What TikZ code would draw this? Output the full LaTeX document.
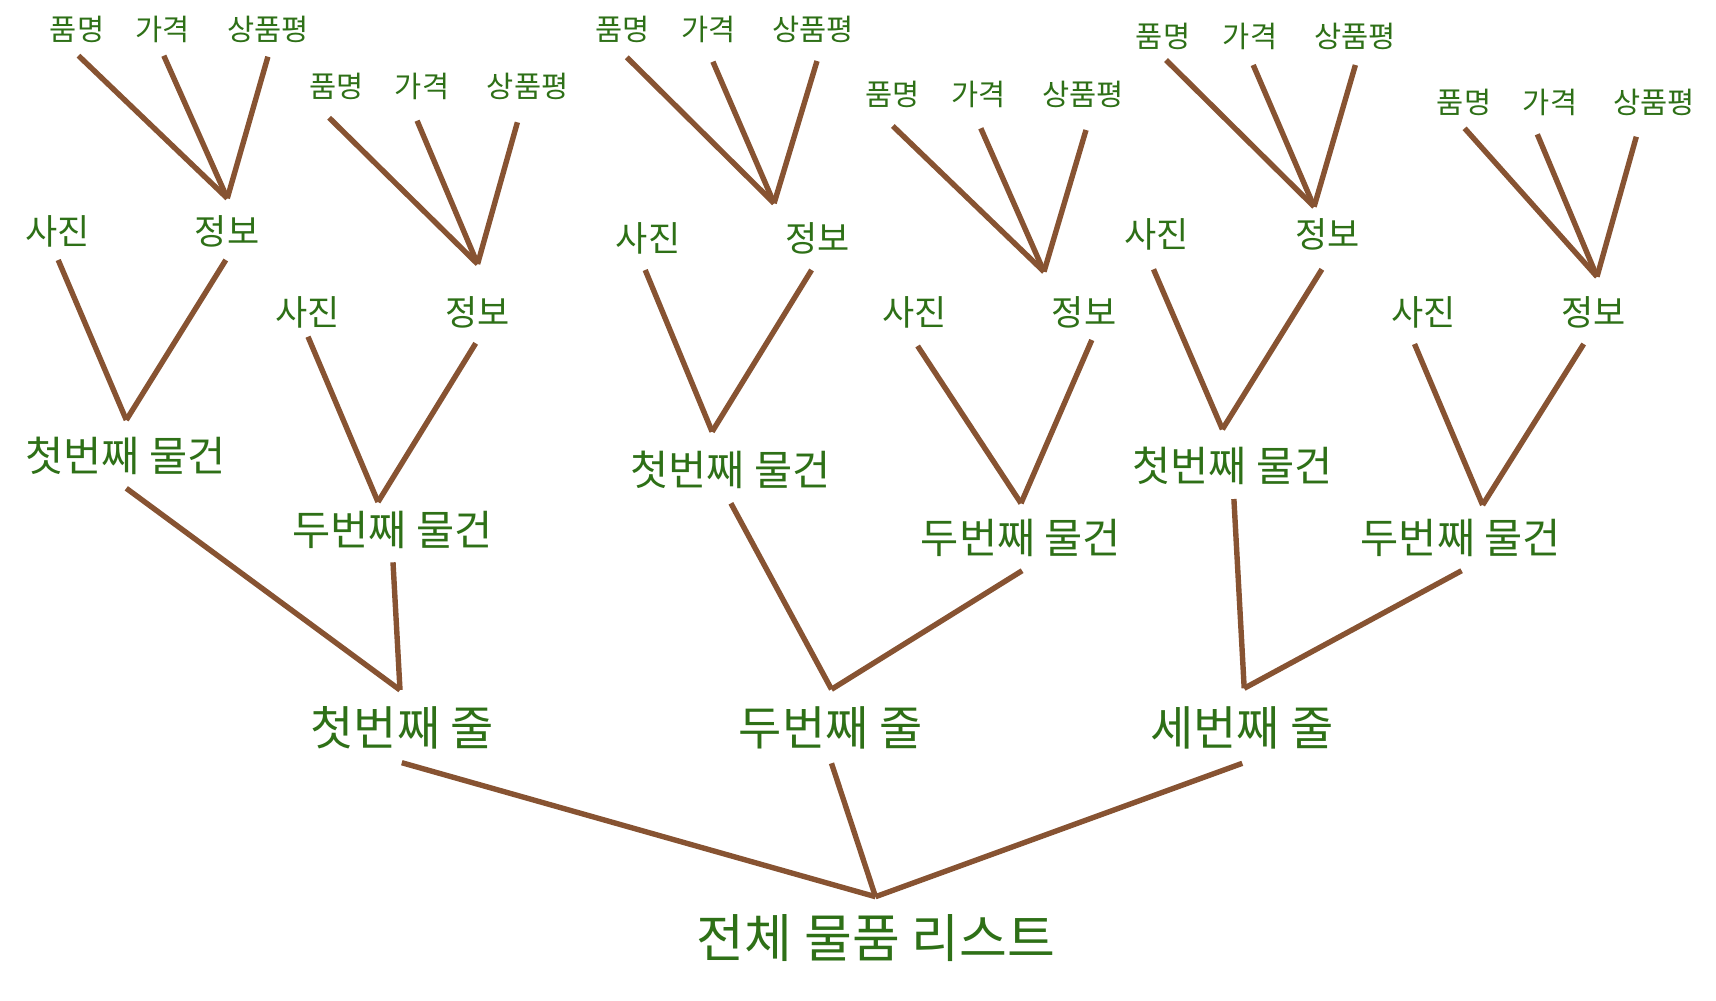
\documentclass[tikz,border=0pt]{standalone}
\usepackage{fontspec}
\setmainfont{Noto Sans CJK KR}
\definecolor{lbl}{RGB}{46,112,23}
\definecolor{brn}{RGB}{135,83,50}
\newcommand\brl[4]{\draw[conn] ([xshift=#2pt,yshift=-#3pt]#1.center) -- (#4);}
\begin{document}
\begin{tikzpicture}[x=1pt,y=-1pt,
  every node/.style={text=lbl, inner sep=0pt, outer sep=0pt},
  sml/.style={font=\fontsize{29.5}{32}\selectfont, text height=23.9pt, text depth=1.5pt},
  mid/.style={font=\fontsize{35}{38}\selectfont, text height=28.4pt, text depth=1.8pt},
  itm/.style={font=\fontsize{41.5}{44}\selectfont, text height=33.6pt, text depth=2.1pt},
  row/.style={font=\fontsize{47}{50}\selectfont, text height=38.1pt, text depth=2.4pt},
  top/.style={font=\fontsize{52}{55}\selectfont, text height=42.1pt, text depth=2.6pt},
  conn/.style={draw=brn, line width=5.4pt}]
\useasboundingbox (0,0) rectangle (1716,1001);

% ---- top labels
\node[sml] (pmA) at (77,29) {품명};
\node[sml] (gkA) at (162.6,29) {가격};
\node[sml] (spA) at (268,29) {상품평};
\node[sml] (pmB) at (336.4,86.7) {품명};
\node[sml] (gkB) at (422,86.7) {가격};
\node[sml] (spB) at (527.6,86.7) {상품평};
\node[sml] (pmC) at (622.9,29) {품명};
\node[sml] (gkC) at (708.5,29) {가격};
\node[sml] (spC) at (813.4,29) {상품평};
\node[sml] (pmD) at (892.2,94) {품명};
\node[sml] (gkD) at (978.3,94) {가격};
\node[sml] (spD) at (1083,94) {상품평};
\node[sml] (pmE) at (1163,36) {품명};
\node[sml] (gkE) at (1250,36) {가격};
\node[sml] (spE) at (1355,36) {상품평};
\node[sml] (pmF) at (1464,102.5) {품명};
\node[sml] (gkF) at (1550,102.5) {가격};
\node[sml] (spF) at (1654,102.5) {상품평};

\coordinate (jA) at (227.3,198.3);
\coordinate (jB) at (477.6,264);
\coordinate (jC) at (774.1,203.3);
\coordinate (jD) at (1044,271.7);
\coordinate (jE) at (1314.1,206.7);
\coordinate (jF) at (1597,276.7);

% ---- photo / info
\node[mid] (sjA) at (57.4,231) {사진};
\node[mid] (jbA) at (227,231) {정보};
\node[mid] (sjB) at (307.5,312) {사진};
\node[mid] (jbB) at (477.6,312) {정보};
\node[mid] (sjC) at (648,238.3) {사진};
\node[mid] (jbC) at (817.2,238.3) {정보};
\node[mid] (sjD) at (914.2,311.7) {사진};
\node[mid] (jbD) at (1084,311.7) {정보};
\node[mid] (sjE) at (1156.2,234) {사진};
\node[mid] (jbE) at (1327.9,234) {정보};
\node[mid] (sjF) at (1423.5,311.8) {사진};
\node[mid] (jbF) at (1593.6,311.8) {정보};

\coordinate (vA) at (126.3,420);
\coordinate (vB) at (378,502);
\coordinate (vC) at (712.1,431.7);
\coordinate (vD) at (1021,503.3);
\coordinate (vE) at (1222.4,429.3);
\coordinate (vF) at (1482.6,505);

% ---- items
\node[itm] (iA) at (125.3,456) {첫번째 물건};
\node[itm] (iB) at (392.3,530) {두번째 물건};
\node[itm] (iC) at (730.7,470) {첫번째 물건};
\node[itm] (iD) at (1021,537.7) {두번째 물건};
\node[itm] (iE) at (1232.3,465.3) {첫번째 물건};
\node[itm] (iF) at (1460.8,537.7) {두번째 물건};

\coordinate (rjA) at (400,690);
\coordinate (rjB) at (831.5,689.3);
\coordinate (rjC) at (1244.2,688.3);

% ---- rows
\node[row] (r1) at (402.4,727.5) {첫번째 줄};
\node[row] (r2) at (830.6,727.5) {두번째 줄};
\node[row] (r3) at (1242,727.8) {세번째 줄};

\coordinate (rootj) at (875.5,896.7);
\node[top] (root) at (876,937.5) {전체 물품 리스트};

% ---- connectors: top fans
\brl{pmA}{1.5}{26.7}{jA}
\brl{gkA}{1.2}{26.7}{jA}
\brl{spA}{-0.1}{27.7}{jA}
\brl{pmB}{-7.3}{31}{jB}
\brl{gkB}{-4.9}{34}{jB}
\brl{spB}{-10.2}{35.6}{jB}
\brl{pmC}{3.9}{28.3}{jC}
\brl{gkC}{4.4}{32.7}{jC}
\brl{spC}{3.6}{32}{jC}
\brl{pmD}{0.6}{32}{jD}
\brl{gkD}{2.5}{34.3}{jD}
\brl{spD}{3}{36}{jD}
\brl{pmE}{3}{24}{jE}
\brl{gkE}{3.2}{29}{jE}
\brl{spE}{0.4}{29}{jE}
\brl{pmF}{0.6}{25.8}{jF}
\brl{gkF}{-12.7}{31.8}{jF}
\brl{spF}{-17.7}{34.2}{jF}

% ---- photo/info to items
\brl{sjA}{0.8}{29}{vA}
\brl{jbA}{-1.2}{29}{vA}
\brl{sjB}{0.5}{24.7}{vB}
\brl{jbB}{-1.9}{31.3}{vB}
\brl{sjC}{-2.8}{31.7}{vC}
\brl{jbC}{-5.6}{31.7}{vC}
\brl{sjD}{3.4}{34.3}{vD}
\brl{jbD}{7.8}{28.3}{vD}
\brl{sjE}{-2.7}{35.3}{vE}
\brl{jbE}{-6}{35.3}{vE}
\brl{sjF}{-9}{32.2}{vF}
\brl{jbF}{-9.9}{32.2}{vF}

% ---- items to rows
\brl{iA}{1}{32.3}{rjA}
\brl{iB}{0.7}{32.3}{rjA}
\brl{iC}{0.2}{33.3}{rjB}
\brl{iD}{1.1}{33}{rjB}
\brl{iE}{1.6}{33.7}{rjC}
\brl{iF}{0.8}{33}{rjC}

% ---- rows to root
\brl{r1}{-0.6}{35.2}{rootj}
\brl{r2}{0.9}{35.8}{rootj}
\brl{r3}{0.3}{35.5}{rootj}
\end{tikzpicture}
\end{document}
